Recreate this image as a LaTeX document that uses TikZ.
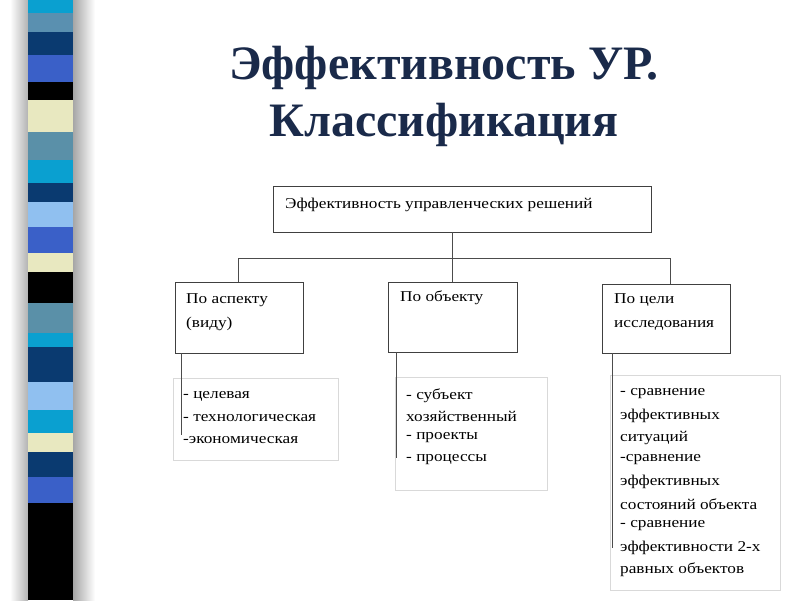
\documentclass[tikz,border=0pt]{standalone}
\usepackage{fontspec}
\setmainfont{Liberation Serif}
\newfontfamily\widefont[FakeStretch=1.15]{Liberation Serif}
\begin{document}
\begin{tikzpicture}[x=1pt,y=-1pt,
  topbox/.style={draw=black!75,line width=0.9pt},
  lowbox/.style={draw=black!15,line width=0.8pt},
  conn/.style={draw=black!70,line width=0.7pt},
  txt/.style={anchor=west,inner sep=0pt,font=\widefont\fontsize{15}{17}\selectfont},
  ttl/.style={font=\bfseries\fontsize{48}{56}\selectfont,text=ttlc,inner sep=0pt}]
\definecolor{ttlc}{HTML}{1A2A4A}
\useasboundingbox (0,0) rectangle (800,600);
\fill[white] (0,0) rectangle (800,600);
% shadow of stripe
\shade[left color=black!35,right color=white] (73,0) rectangle (95,600);
\shade[left color=white,right color=black!30] (10,0) rectangle (28,600);
% stripes
\foreach \a/\b/\c in {0/13/0AA0D0,13/32/5A90B0,32/55/0A3A70,55/82/3A60C8,82/100/000000,100/132/E8E8C0,132/160/5A90A8,160/183/0AA0D0,183/202/0A3A70,202/227/90C0F0,227/253/3A60C8,253/272/E8E8C0,272/303/000000,303/333/5A90A8,333/347/0AA0D0,347/382/0A3A70,382/410/90C0F0,410/433/0AA0D0,433/452/E8E8C0,452/477/0A3A70,477/503/3A60C8,503/600/000000}{
  \definecolor{sc}{HTML}{\c}\fill[sc] (28,\a) rectangle (73,\b);}
% title
\node[ttl] (t1) at (444,68) {Эффективность УР.};
\node[ttl] (t2) at (444,125) {Классификация};
% top box
\draw[topbox] (273,186) rectangle (651,232);
\coordinate (top) at (452,232);
\node[txt] (ttext) at (285,205) {Эффективность управленческих решений};
% level boxes
\draw[topbox] (175,282) rectangle (303,353);
\draw[topbox] (388,282) rectangle (517,352);
\draw[topbox] (602,284) rectangle (730,353);
\node[txt] at (186,300) {По аспекту};
\node[txt] at (186,324) {(виду)};
\node[txt] at (400,298) {По объекту};
\node[txt] at (614,300) {По цели};
\node[txt] at (614,325) {исследования};
% connectors
\coordinate (h1) at (238,258); \coordinate (h3) at (670,258);
\draw[conn] (top) -- (452,282);
\draw[conn] (h1) -- (h3);
\draw[conn] (h1) -- (238,282);
\draw[conn] (h3) -- (670,284);
% lower boxes
\draw[lowbox] (173,378) rectangle (338,460);
\draw[lowbox] (395,377) rectangle (547,490);
\draw[lowbox] (610,375) rectangle (780,590);
\draw[conn] (181,353) -- (181,435);
\draw[conn] (396,352) -- (396,458);
\draw[conn] (612,353) -- (612,548);
\node[txt] at (183,396) {- целевая};
\node[txt] at (183,418) {- технологическая};
\node[txt] at (183,440) {-экономическая};
\node[txt] at (406,396) {- субъект};
\node[txt] at (406,416) {хозяйственный};
\node[txt] at (406,438) {- проекты};
\node[txt] at (406,460) {- процессы};
\foreach \t [count=\i] in {- сравнение,эффективных,ситуаций,-сравнение,эффективных,состояний объекта,- сравнение,эффективности 2-х,равных объектов}
  \node[txt] at (620,372+22*\i) {\t};
\end{tikzpicture}
\end{document}
